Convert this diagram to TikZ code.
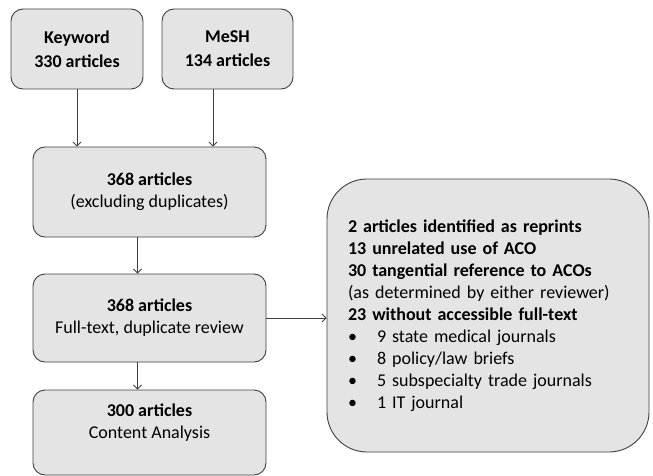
\documentclass[tikz,border=0pt]{standalone}
\usepackage{fontspec}
\setmainfont{Carlito}
\usetikzlibrary{arrows.meta}
\definecolor{boxfill}{HTML}{E4E4E4}
\definecolor{boxline}{HTML}{404040}
\begin{document}
\begin{tikzpicture}[x=1pt,y=-1pt,
    box/.style={draw=boxline,fill=boxfill,line width=0.9pt,rounded corners=12pt,
      align=center,inner sep=0pt,font=\fontsize{18}{22}\selectfont},
    arr/.style={draw=boxline,line width=0.9pt,-{Straight Barb[length=4pt,width=8pt]}}]
  \useasboundingbox (0,0) rectangle (653,476);
  % search sources
  \node[box,minimum width=132pt,minimum height=80pt,font=\fontsize{18}{24}\selectfont]
    (kw) at (77,49) {\textbf{Keyword}\\\textbf{330 articles}};
  \node[box,minimum width=131pt,minimum height=80pt,font=\fontsize{18}{24}\selectfont]
    (mesh) at (227.5,49) {\textbf{MeSH}\\\textbf{134 articles}};
  % main flow
  \node[box,minimum width=233pt,minimum height=90pt] (dedup) at (149.5,192)
    {\textbf{368 articles}\\(excluding duplicates)};
  \node[box,minimum width=233pt,minimum height=88pt] (review) at (149.5,318)
    {\textbf{368 articles}\\Full-text, duplicate review};
  \node[box,minimum width=233pt,minimum height=85pt] (analysis) at (149.5,432.5)
    {\textbf{300 articles}\\Content Analysis\\[-5pt]\strut};
  % exclusions
  \node[box,rounded corners=40pt,align=left,text width=280pt,inner xsep=21pt,
    minimum height=273pt] (excl) at (488,315.5)
    {\textbf{2 articles identified as reprints}\\
     \textbf{13 unrelated use of ACO}\\
     \textbf{30 tangential reference to ACOs}\\
     (as determined by either reviewer)\\
     \textbf{23 without accessible full-text}\\
     \makebox[29pt][l]{\textbullet}9 state medical journals\\
     \makebox[29pt][l]{\textbullet}8 policy/law briefs\\
     \makebox[29pt][l]{\textbullet}5 subspecialty trade journals\\
     \makebox[29pt][l]{\textbullet}1 IT journal\\[6pt]};
  \draw[arr] (kw.south) -- (dedup.north -| kw.south);
  \draw[arr] ([xshift=-14.5pt]mesh.south) -- ([xshift=-14.5pt]mesh.south |- dedup.north);
  \draw[arr] ([xshift=-12pt]dedup.south) -- ([xshift=-12pt]review.north);
  \draw[arr] ([xshift=-12pt]review.south) -- ([xshift=-12pt]analysis.north);
  \draw[arr] (review.east) -- (excl.west |- review.east);
\end{tikzpicture}
\end{document}
